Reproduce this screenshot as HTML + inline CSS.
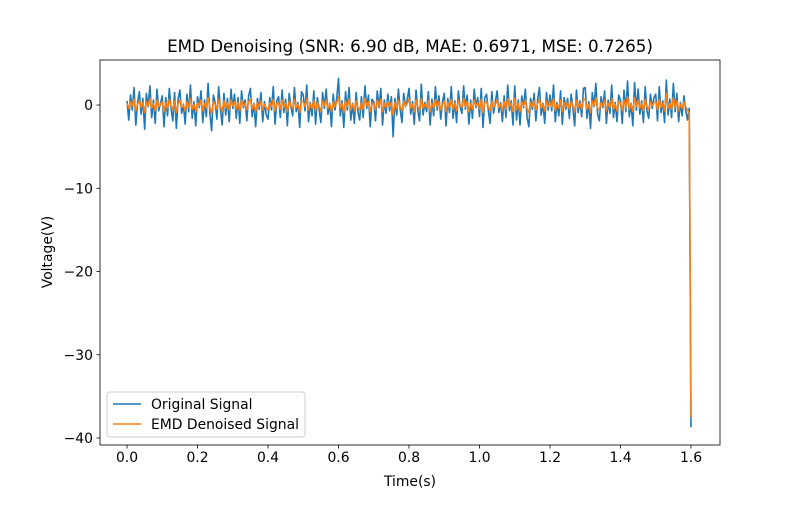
<!DOCTYPE html>
<html><head><meta charset="utf-8"><style>
body{margin:0;background:#fff}
svg text{font-family:"DejaVu Sans","Liberation Sans",sans-serif;fill:#000}
</style></head><body>
<svg width="800" height="500" xmlns="http://www.w3.org/2000/svg">
<rect width="800" height="500" fill="#fff"/>
<g id="plot"></g>
</svg>
<script>
const xTicks=[0,0.2,0.4,0.6,0.8,1.0,1.2,1.4,1.6];
const xTickLabels=["0.0","0.2","0.4","0.6","0.8","1.0","1.2","1.4","1.6"];
const yTicks=[0,-10,-20,-30,-40];
const yTickLabels=["0","−10","−20","−30","−40"];
const dt=0.005;
const original=[0.5,-1.8,1.2,-0.6,2.1,-2.4,0.3,1.6,-1.1,0.8,
-2.9,1.4,-0.2,2.3,-1.5,0.6,-2.2,1.9,-0.7,0.2,
1.1,-2.6,0.9,-1.3,2.0,-0.4,-1.9,1.5,-2.8,0.7,
1.8,-1.0,0.1,-2.3,1.3,-0.8,2.4,-1.6,0.4,-2.5,
1.0,-0.3,1.7,-2.1,0.6,-1.4,2.6,-0.9,-3.1,1.2,
0.3,-1.7,2.2,-0.5,-2.4,1.4,-1.2,0.8,-2.0,1.9,
-0.4,1.3,-1.6,0.9,-2.2,1.7,-0.3,0.6,-1.9,1.1,
2.0,-1.4,0.2,-2.6,0.8,-0.5,1.5,-2.0,0.4,-1.2,
-1.7,0.9,-0.6,2.2,-2.3,0.5,1.0,-1.5,1.8,-0.9,
0.7,-2.5,1.4,-0.2,-1.3,2.1,-0.8,0.3,-2.7,1.6,
1.2,-0.7,2.4,-2.0,0.3,-1.3,1.7,-2.3,0.9,-0.5,
-2.1,1.5,-0.4,1.9,-1.1,0.2,-2.6,1.3,-0.6,0.8,
3.2,-1.3,0.5,-2.7,1.6,-0.6,2.1,-1.8,0.2,-2.2,
1.5,-0.8,-1.8,1.0,-1.5,2.3,-0.4,1.2,-2.6,0.7,
0.4,-1.9,1.7,-0.3,2.0,-2.4,0.6,-1.0,1.3,-0.7,
1.0,-3.8,0.8,-1.2,1.9,-0.5,-2.1,1.4,-0.2,0.6,
2.0,-1.1,0.4,-2.3,1.8,-0.7,-1.9,2.5,-1.2,0.3,
-0.8,1.6,-2.4,0.7,-1.3,2.2,-0.6,1.1,-1.7,0.4,
1.4,-2.5,0.8,-0.9,2.2,-1.6,0.5,-2.1,1.7,-0.2,
-1.0,2.3,-0.5,1.2,-2.3,0.6,-1.6,1.9,-0.3,0.9,
-1.4,2.0,-2.7,0.9,1.3,-0.6,-2.2,1.6,-1.0,0.4,
1.7,-0.9,0.3,-2.0,1.1,-1.5,2.4,-0.7,0.5,-2.4,
2.3,-1.8,0.6,-2.4,1.1,-0.3,1.9,-1.5,-2.6,0.8,
-0.5,1.4,-1.9,0.7,2.1,-1.2,0.2,-2.2,1.5,-0.6,
1.2,-0.7,2.4,-2.0,0.3,-1.3,1.7,-2.3,0.9,-0.5,
0.8,-1.6,1.3,-0.4,-2.5,1.8,-0.9,0.5,-1.4,2.0,
2.1,-1.6,0.4,-2.8,1.5,-0.2,2.6,-1.1,-1.9,1.0,
-0.3,1.7,-2.2,0.6,-1.0,2.4,-1.5,0.3,-2.0,1.2,
0.6,-2.2,1.8,-0.8,2.9,-1.4,0.2,-2.5,2.7,-0.6,
1.9,-1.1,0.5,-2.1,2.2,-0.7,-1.6,1.3,-0.4,0.9,
1.3,-1.9,2.2,-0.9,0.5,-2.1,3.0,-1.2,0.7,-1.5,
2.6,-0.8,1.4,-2.0,0.3,-1.3,1.1,-0.6,-1.8,-0.4,-38.7];
const denoised=[0.2,-0.4,0.4,-0.1,0.7,-0.7,0.1,0.5,-0.3,0.3,
-0.9,0.4,-0.1,0.8,-0.4,0.2,-0.7,0.6,-0.2,0.1,
0.4,-0.8,0.3,-0.4,0.7,-0.1,-0.6,0.5,-0.9,0.2,
0.6,-0.3,0.0,-0.7,0.4,-0.3,0.8,-0.5,0.1,-0.8,
0.3,-0.1,0.6,-0.7,0.2,-0.4,0.9,-0.3,-1.0,0.4,
0.1,-0.5,0.7,-0.2,-0.8,0.5,-0.4,0.3,-0.6,0.6,
-0.1,0.4,-0.5,0.3,-0.7,0.6,-0.1,0.2,-0.6,0.4,
0.7,-0.5,0.1,-0.8,0.3,-0.2,0.5,-0.6,0.1,-0.4,
-0.6,0.3,-0.2,0.7,-0.7,0.2,0.3,-0.5,0.6,-0.3,
0.2,-0.8,0.5,-0.1,-0.4,0.7,-0.3,0.1,-0.9,0.5,
0.4,-0.2,0.8,-0.6,0.1,-0.4,0.6,-0.7,0.3,-0.2,
-0.7,0.5,-0.1,0.6,-0.4,0.1,-0.8,0.4,-0.2,0.3,
1.0,-0.4,0.2,-0.9,0.5,-0.2,0.7,-0.6,0.1,-0.7,
0.5,-0.3,-0.6,0.3,-0.5,0.8,-0.1,0.4,-0.8,0.2,
0.1,-0.6,0.6,-0.1,0.7,-0.8,0.2,-0.3,0.4,-0.2,
0.3,-1.2,0.3,-0.4,0.6,-0.2,-0.7,0.5,-0.1,0.2,
0.7,-0.4,0.1,-0.8,0.6,-0.2,-0.6,0.8,-0.4,0.1,
-0.3,0.5,-0.8,0.2,-0.4,0.7,-0.2,0.4,-0.6,0.1,
0.5,-0.8,0.3,-0.3,0.7,-0.5,0.2,-0.7,0.6,-0.1,
-0.3,0.8,-0.2,0.4,-0.8,0.2,-0.5,0.6,-0.1,0.3,
-0.5,0.7,-0.9,0.3,0.4,-0.2,-0.7,0.5,-0.3,0.1,
0.6,-0.3,0.1,-0.7,0.4,-0.5,0.8,-0.2,0.2,-0.8,
0.8,-0.6,0.2,-0.8,0.4,-0.1,0.6,-0.5,-0.9,0.3,
-0.2,0.5,-0.6,0.2,0.7,-0.4,0.1,-0.7,0.5,-0.2,
0.4,-0.2,0.8,-0.7,0.1,-0.4,0.6,-0.8,0.3,-0.2,
0.3,-0.5,0.4,-0.1,-0.8,0.6,-0.3,0.2,-0.5,0.7,
0.7,-0.5,0.1,-0.9,0.5,-0.1,0.9,-0.4,-0.6,0.3,
-0.1,0.6,-0.7,0.2,-0.3,0.8,-0.5,0.1,-0.7,0.4,
0.2,-0.7,0.6,-0.3,1.0,-0.5,0.1,-0.8,0.9,-0.2,
0.6,-0.4,0.2,-0.7,0.7,-0.2,-0.5,0.4,-0.1,0.3,
0.4,-0.6,0.7,-0.3,0.2,-0.7,1.4,-0.4,0.2,-0.5,
0.9,-0.3,0.5,-0.7,0.1,-0.4,0.4,-0.2,-0.6,-0.9,-37.5];

const L=100,R=720,T=60,B=445;
const xmin=-0.0766,xmax=1.6823,ymin=-40.84,ymax=5.41;
const X=v=>L+(v-xmin)/(xmax-xmin)*(R-L);
const Y=v=>B-(v-ymin)/(ymax-ymin)*(B-T);
const NS="http://www.w3.org/2000/svg";
const g=document.getElementById('plot');
function mk(tag,attrs,parent){const e=document.createElementNS(NS,tag);for(const k in attrs)e.setAttribute(k,attrs[k]);(parent||g).appendChild(e);return e;}

function series(data,color,name){
  const pts=data.map((v,i)=>X(i*dt).toFixed(2)+','+Y(v).toFixed(2)).join(' ');
  const p=mk('polyline',{points:pts,fill:'none',stroke:color,'stroke-width':1.6,'stroke-linejoin':'round'});
  
  
}
series(original,'#1f77b4','original-signal-line');
series(denoised,'#ff7f0e','denoised-signal-line');

const frame=mk('rect',{x:L,y:T,width:R-L,height:B-T,fill:'none',stroke:'#000','stroke-width':0.8});



xTicks.forEach((v,i)=>{
  const tk=mk('line',{x1:X(v),x2:X(v),y1:B,y2:B+3.5,stroke:'#000','stroke-width':0.8});
  
  
  const t=mk('text',{x:X(v),y:B+17,'text-anchor':'middle','font-size':13.9});
  t.textContent=xTickLabels[i];
  
  
});
yTicks.forEach((v,i)=>{
  const tk=mk('line',{x1:L-3.5,x2:L,y1:Y(v),y2:Y(v),stroke:'#000','stroke-width':0.8});
  
  
  const t=mk('text',{x:L-7,y:Y(v)+5,'text-anchor':'end','font-size':13.9});
  t.textContent=yTickLabels[i];
  
  
});

const title=mk('text',{x:410,y:52,'text-anchor':'middle','font-size':16.7});
title.textContent='EMD Denoising (SNR: 6.90 dB, MAE: 0.6971, MSE: 0.7265)';


const xl=mk('text',{x:410,y:486,'text-anchor':'middle','font-size':13.9});
xl.textContent='Time(s)';


const yl=mk('text',{x:52,y:252,'text-anchor':'middle','font-size':13.9,transform:'rotate(-90 52 252)'});
yl.textContent='Voltage(V)';



const lg=mk('g',{});


mk('rect',{x:107,y:392,width:198,height:45,rx:3,fill:'#fff','fill-opacity':0.8,stroke:'#ccc','stroke-width':1},lg);
[['Original Signal','#1f77b4',404],['EMD Denoised Signal','#ff7f0e',424]].forEach(([n,c,y])=>{
  const ln=mk('line',{x1:113,x2:141,y1:y,y2:y,stroke:c,'stroke-width':1.5},lg);
  
  
  const t=mk('text',{x:151,y:y+5,'font-size':13.9},lg);
  t.textContent=n;
  
  
});
</script>
</body></html>
